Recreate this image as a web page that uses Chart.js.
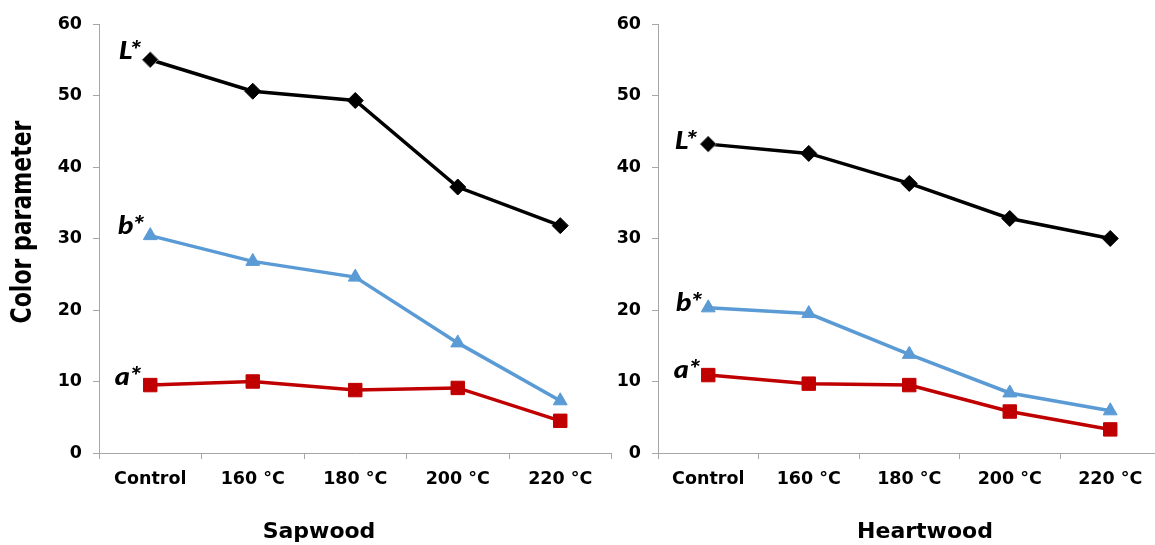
<!DOCTYPE html>
<html>
<head>
<meta charset="utf-8">
<script src="https://cdn.jsdelivr.net/npm/chart.js@4.4.0/dist/chart.umd.min.js"></script>
<style>
  body { margin: 0; background: #fff; }
  #wrap { position: relative; width: 1155px; height: 545px; overflow: hidden; }
  canvas { position: absolute; top: 0; }
</style>
</head>
<body>
<div id="wrap">
  <canvas id="sapChart" width="622" height="545" style="left:0"></canvas>
  <canvas id="heartChart" width="566" height="545" style="left:605px"></canvas>
</div>
<script>
// categories and tick values
const treatments = ["Control", "160 °C", "180 °C", "200 °C", "220 °C"];
const yTicks = [0, 10, 20, 30, 40, 50, 60];

// Sapwood values
const sapL = [55.0, 50.6, 49.3, 37.2, 31.8];
const sapB = [30.4, 26.8, 24.6, 15.4, 7.3];
const sapA = [9.5, 10.0, 8.8, 9.1, 4.5];

// Heartwood values
const heartL = [43.2, 41.9, 37.7, 32.8, 30.0];
const heartB = [20.3, 19.5, 13.8, 8.4, 5.9];
const heartA = [10.9, 9.7, 9.5, 5.8, 3.3];

const tickFont = { family: "'DejaVu Sans', sans-serif", size: 17.5, weight: "bold" };
const axisGray = "#a6a6a6";

// draws the L*, b*, a* names next to the first point of every line
const seriesNames = {
  id: "seriesNames",
  afterDatasetsDraw(chart) {
    const ctx = chart.ctx;
    chart.data.datasets.forEach((ds, i) => {
      const pt = chart.getDatasetMeta(i).data[0];
      const off = ds.nameOffset || [-8, -7];
      ctx.save();
      ctx.translate(pt.x + off[0], pt.y + off[1]);
      ctx.scale(1.15, 1);
      ctx.font = "italic 900 25px Lato, 'Open Sans', sans-serif";
      ctx.fillStyle = "#000";
      ctx.textAlign = "right";
      ctx.textBaseline = "middle";
      ctx.fillText(ds.label, 0, 0);
      ctx.restore();
    });
  }
};

// free axis titles (not centred on the plot in the original)
const axisTitles = {
  id: "axisTitles",
  afterDraw(chart, args, opts) {
    const ctx = chart.ctx;
    (opts.items || []).forEach(t => {
      ctx.save();
      ctx.font = "bold 22px 'DejaVu Sans', sans-serif";
      ctx.fillStyle = "#000";
      ctx.textAlign = "center";
      ctx.textBaseline = "alphabetic";
      ctx.translate(t.x, t.y);
      if (t.rotate) {
        ctx.scale(1.25, 1);
        ctx.rotate(-Math.PI / 2);
      }
      ctx.fillText(t.text, 0, 0);
      ctx.restore();
    });
  }
};

function makeDatasets(L, B, A, offs) {
  return [
    {
      label: "L*",
      data: L,
      borderColor: "#000",
      backgroundColor: "#000",
      pointBorderColor: ["#777", "#000", "#000", "#000", "#000"],
      borderWidth: 3.5,
      pointStyle: "rectRot",
      pointRadius: 8,
      pointBorderWidth: 1,
      nameOffset: offs[0]
    },
    {
      label: "b*",
      data: B,
      borderColor: "#5b9bd5",
      backgroundColor: "#5b9bd5",
      borderWidth: 3.5,
      pointStyle: "triangle",
      pointRadius: 8,
      pointBorderWidth: 1,
      nameOffset: offs[1]
    },
    {
      label: "a*",
      data: A,
      borderColor: "#c00000",
      backgroundColor: "#c00000",
      borderWidth: 3.5,
      pointStyle: "rect",
      pointRadius: 9.5,
      pointBorderWidth: 1,
      nameOffset: offs[2]
    }
  ];
}

function makeChart(id, datasets, yWidth, padRight, titles) {
  return new Chart(document.getElementById(id), {
    type: "line",
    data: { labels: treatments, datasets: datasets },
    plugins: [seriesNames, axisTitles],
    options: {
      responsive: false,
      animation: false,
      layout: { padding: { top: 24, right: padRight, bottom: 0, left: 0 } },
      plugins: {
        legend: { display: false },
        tooltip: { enabled: false },
        axisTitles: { items: titles }
      },
      elements: { line: { tension: 0 } },
      scales: {
        x: {
          offset: true,
          grid: { offset: true, drawOnChartArea: false, drawTicks: true, tickLength: 6, color: axisGray },
          border: { display: true, color: axisGray, width: 1 },
          ticks: { color: "#000", font: tickFont, padding: 10, maxRotation: 0 },
          afterFit: s => { s.height = 92; }
        },
        y: {
          min: 0,
          max: 60,
          afterBuildTicks: s => { s.ticks = yTicks.map(v => ({ value: v })); },
          grid: { drawOnChartArea: false, drawTicks: true, tickLength: 6, color: axisGray },
          border: { display: true, color: axisGray, width: 1 },
          ticks: { color: "#000", font: tickFont, padding: 11 },
          afterFit: s => { s.width = yWidth; }
        }
      }
    }
  });
}

makeChart("sapChart",
  makeDatasets(sapL, sapB, sapA, [[-9, -9], [-6, -10], [-9, -8]]),
  99, 5,
  [
    { text: "Color parameter", x: 31, y: 222, rotate: true },
    { text: "Sapwood", x: 319, y: 538 }
  ]);

makeChart("heartChart",
  makeDatasets(heartL, heartB, heartA, [[-11, -3], [-6, -5], [-8, -5]]),
  53, 0,
  [
    { text: "Heartwood", x: 320, y: 538 }
  ]);
</script>
</body>
</html>
